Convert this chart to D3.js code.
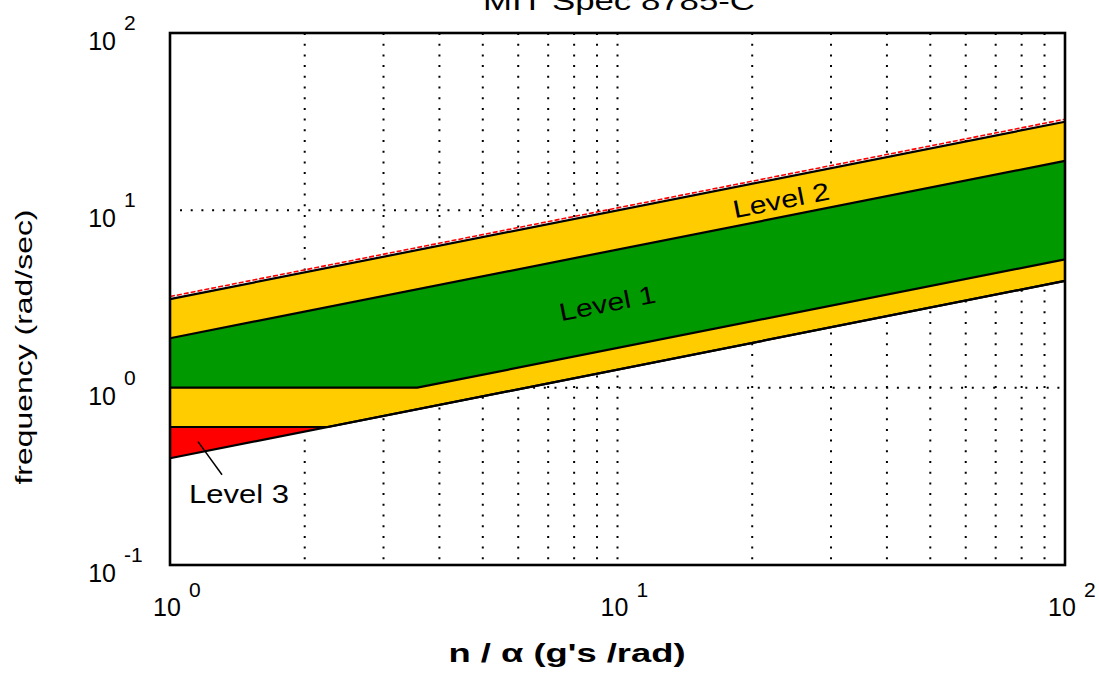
<!DOCTYPE html>
<html>
<head>
<meta charset="utf-8">
<script src="https://cdn.jsdelivr.net/npm/d3@7"></script>
<style>
  html, body { margin: 0; padding: 0; background: #fff; }
  svg { display: block; }
  text { font-family: "Liberation Sans", Arial, sans-serif; fill: #000; }
</style>
</head>
<body>
<svg id="chart" width="1099" height="673"></svg>
<script>
// ---- data ----
const titleText = "MIT Spec 8785-C";
const xLabel = "n / \u03b1  (g's /rad)";
const yLabel = "frequency (rad/sec)";
const xDomain = [1, 100];
const yDomain = [0.1, 100];
const xTickExps = [0, 1, 2];
const yTickExps = [-1, 0, 1, 2];
const xGridValues = [2, 3, 4, 5, 6, 7, 8, 9, 10, 20, 30, 40, 50, 60, 70, 80, 90];
const yGridValues = [1, 10];
// boundaries: [n/alpha, omega]
const level2Upper = [[1, 3.16], [100, 31.6]];
const level1Upper = [[1, 1.9], [100, 19.0]];
const level1Lower = [[1, 1.0], [3.57, 1.0], [100, 5.29]];
const level2Lower = [[1, 0.6], [2.25, 0.6], [100, 4.0]];
const level3Lower = [[1, 0.4], [100, 4.0]];
const levelLabels = [
  { text: "Level 2", at: [23.4, 10.2] },
  { text: "Level 1", at: [9.57, 2.68] }
];
const level3Label = { text: "Level 3", at: [1.103, 0.2246], pointer: [[1.155, 0.496], [1.307, 0.323]] };

// ---- layout ----
const svg = d3.select("#chart");
const M = { left: 170, right: 1065, top: 33, bottom: 565 };
const x = d3.scaleLog().domain(xDomain).range([M.left, M.right]);
const y = d3.scaleLog().domain(yDomain).range([M.bottom, M.top]);
const line = d3.line().x(d => x(d[0])).y(d => y(d[1]));

const colors = { yellow: "#FFCC00", green: "#009900", red: "#FF0000" };

// grid
const grid = svg.append("g");
grid.selectAll("line.vg").data(xGridValues).enter().append("line")
  .attr("x1", d => x(d)).attr("x2", d => x(d))
  .attr("y1", M.top).attr("y2", M.bottom)
  .attr("stroke", "#000").attr("stroke-width", 2)
  .attr("stroke-dasharray", "2,8.7");
grid.selectAll("line.hg").data(yGridValues).enter().append("line")
  .attr("x1", M.left + 10).attr("x2", M.right)
  .attr("y1", d => y(d)).attr("y2", d => y(d))
  .attr("stroke", "#000").attr("stroke-width", 2)
  .attr("stroke-dasharray", "2,8.7");

// regions
function band(upper, lower) {
  return line(upper.concat(lower.slice().reverse())) + "Z";
}
svg.append("path").attr("d", band(level2Upper, level2Lower)).attr("fill", colors.yellow);
svg.append("path").attr("d", band(level1Upper, level1Lower)).attr("fill", colors.green);
svg.append("path").attr("d", band(level2Lower, level3Lower)).attr("fill", colors.red);

// boundary lines
[level2Upper, level1Upper, level1Lower, level2Lower, level3Lower].forEach(b => {
  svg.append("path").attr("d", line(b)).attr("fill", "none")
    .attr("stroke", "#000").attr("stroke-width", 2.2);
});
// red hatched edge above Level 2 upper boundary
svg.append("path").attr("d", line(level2Upper)).attr("fill", "none")
  .attr("transform", "translate(0,-2.5)")
  .attr("stroke", colors.red).attr("stroke-width", 1.6)
  .attr("stroke-dasharray", "5,2");

// frame
svg.append("rect").attr("x", M.left).attr("y", M.top)
  .attr("width", M.right - M.left).attr("height", M.bottom - M.top)
  .attr("fill", "none").attr("stroke", "#000").attr("stroke-width", 2.6);

// level labels (rotated along boundaries)
const ang = Math.atan2(y(level2Upper[1][1]) - y(level2Upper[0][1]), x(level2Upper[1][0]) - x(level2Upper[0][0])) * 180 / Math.PI;
levelLabels.forEach(l => {
  svg.append("text")
    .attr("transform", `translate(${x(l.at[0])},${y(l.at[1])}) rotate(${ang})`)
    .attr("text-anchor", "middle")
    .attr("font-size", 25)
    .attr("textLength", 98).attr("lengthAdjust", "spacingAndGlyphs")
    .text(l.text);
});
svg.append("line")
  .attr("x1", x(level3Label.pointer[0][0])).attr("y1", y(level3Label.pointer[0][1]))
  .attr("x2", x(level3Label.pointer[1][0])).attr("y2", y(level3Label.pointer[1][1]))
  .attr("stroke", "#000").attr("stroke-width", 1.5);
svg.append("text")
  .attr("x", x(level3Label.at[0])).attr("y", y(level3Label.at[1]))
  .attr("font-size", 26)
  .attr("textLength", 100).attr("lengthAdjust", "spacingAndGlyphs")
  .text(level3Label.text);

// tick labels
yTickExps.forEach(e => {
  const yy = y(Math.pow(10, e));
  svg.append("text").attr("x", 116).attr("y", yy + 17)
    .attr("text-anchor", "end").attr("font-size", 25).text("10");
  svg.append("text").attr("x", 124).attr("y", yy - 3)
    .attr("font-size", 21).text(String(e));
});
xTickExps.forEach(e => {
  const xx = x(Math.pow(10, e));
  svg.append("text").attr("x", xx - 3).attr("y", 616)
    .attr("text-anchor", "middle").attr("font-size", 25).text("10");
  svg.append("text").attr("x", xx + 19).attr("y", 597)
    .attr("font-size", 21).text(String(e));
});

// axis titles
svg.append("text").attr("x", 619).attr("y", 10)
  .attr("text-anchor", "middle").attr("font-size", 25)
  .attr("textLength", 272).attr("lengthAdjust", "spacingAndGlyphs")
  .text(titleText);
svg.append("text").attr("x", 567).attr("y", 662)
  .attr("text-anchor", "middle").attr("font-size", 25).attr("font-weight", "bold")
  .attr("textLength", 237).attr("lengthAdjust", "spacingAndGlyphs")
  .text(xLabel);
svg.append("text")
  .attr("transform", "translate(32,347) rotate(-90)")
  .attr("text-anchor", "middle").attr("font-size", 24)
  .attr("textLength", 275).attr("lengthAdjust", "spacingAndGlyphs")
  .text(yLabel);
</script>
</body>
</html>
